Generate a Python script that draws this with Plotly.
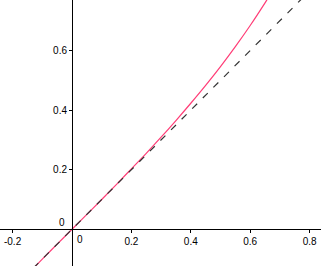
import plotly.graph_objects as go

# data
curve_x = [-0.13, -0.1, -0.05, 0.0, 0.05, 0.1, 0.15, 0.2, 0.25, 0.3, 0.35, 0.4, 0.45, 0.5, 0.55, 0.6, 0.65, 0.67]
curve_y = [-0.131, -0.100, -0.050, 0.0, 0.050, 0.100, 0.151, 0.203, 0.255, 0.309, 0.365, 0.423, 0.483, 0.546, 0.613, 0.684, 0.760, 0.792]
line_x = [-0.13, 0.84]
line_y = [-0.13, 0.84]
x_ticks = [-0.2, 0.2, 0.4, 0.6, 0.8]
x_tick_text = ["-0.2", "0.2", "0.4", "0.6", "0.8"]
y_ticks = [0.2, 0.4, 0.6]
y_tick_text = ["0.2", "0.4", "0.6"]

x_range = [-0.2424, 0.8384]
y_range = [-0.1232, 0.7695]

fig = go.Figure()
fig.add_trace(go.Scatter(x=curve_x, y=curve_y, mode="lines",
                         line=dict(color="#ff3d77", width=1.2, shape="spline"),
                         hoverinfo="skip"))
fig.add_trace(go.Scatter(x=line_x, y=line_y, mode="lines",
                         line=dict(color="#333333", width=1.2, dash="7px,8px"),
                         hoverinfo="skip"))

font = dict(family="Liberation Sans, Arial, sans-serif", size=10, color="black")
x0_frac = (0 - x_range[0]) / (x_range[1] - x_range[0])
y0_frac = (0 - y_range[0]) / (y_range[1] - y_range[0])

fig.update_layout(
    width=321, height=266,
    margin=dict(l=0, r=0, t=0, b=0),
    paper_bgcolor="white", plot_bgcolor="white",
    showlegend=False,
    xaxis=dict(range=x_range, anchor="free", position=y0_frac,
               showline=True, linecolor="black", linewidth=1,
               showgrid=False, zeroline=False,
               tickmode="array", tickvals=x_ticks, ticktext=x_tick_text,
               ticks="outside", ticklen=3, tickcolor="black", tickwidth=1,
               tickfont=font, fixedrange=True),
    yaxis=dict(range=y_range, anchor="free", position=x0_frac,
               showline=True, linecolor="black", linewidth=1,
               showgrid=False, zeroline=False,
               tickmode="array", tickvals=y_ticks, ticktext=y_tick_text,
               ticks="outside", ticklen=3, tickcolor="black", tickwidth=1,
               tickfont=font, fixedrange=True),
    annotations=[
        dict(x=0, y=0, xref="x", yref="y", text="0", showarrow=False,
             font=font, xanchor="center", yanchor="middle", xshift=-9.5, yshift=7),
        dict(x=0, y=0, xref="x", yref="y", text="0", showarrow=False,
             font=font, xanchor="center", yanchor="middle", xshift=8.5, yshift=-10),
    ],
)

fig.write_html("out.html")
